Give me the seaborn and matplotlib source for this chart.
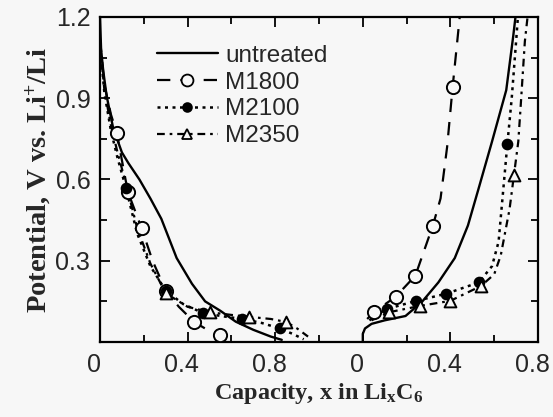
import numpy as np
import pandas as pd
import matplotlib
matplotlib.use("Agg")
import matplotlib.pyplot as plt
from matplotlib.lines import Line2D
from matplotlib.transforms import ScaledTranslation
import seaborn as sns

# ---------------- data ----------------
# Discharge (left panel): capacity x, potential V
dis_untreated_x = [0.0, 0.005, 0.015, 0.03, 0.06, 0.10, 0.13, 0.18, 0.23, 0.28, 0.35, 0.42, 0.48, 0.55, 0.62, 0.70, 0.78, 0.83]
dis_untreated_y = [1.20, 1.08, 1.00, 0.91, 0.79, 0.70, 0.66, 0.60, 0.53, 0.455, 0.31, 0.215, 0.15, 0.115, 0.075, 0.045, 0.02, 0.008]

dis_m1800_x = [0.0, 0.02, 0.05, 0.077, 0.127, 0.19, 0.24, 0.30, 0.36, 0.43, 0.49, 0.55, 0.58]
dis_m1800_y = [1.12, 0.95, 0.84, 0.77, 0.555, 0.42, 0.30, 0.19, 0.13, 0.074, 0.045, 0.026, 0.015]
dis_m1800_mx = [0.077, 0.127, 0.19, 0.30, 0.43, 0.55]
dis_m1800_my = [0.77, 0.555, 0.42, 0.19, 0.074, 0.026]

dis_m2100_x = [0.0, 0.02, 0.05, 0.08, 0.118, 0.17, 0.23, 0.30, 0.38, 0.47, 0.56, 0.65, 0.74, 0.82, 0.88, 0.93]
dis_m2100_y = [1.10, 0.92, 0.78, 0.68, 0.57, 0.40, 0.28, 0.19, 0.14, 0.107, 0.095, 0.085, 0.07, 0.05, 0.03, 0.01]
dis_m2100_mx = [0.118, 0.30, 0.47, 0.65, 0.82]
dis_m2100_my = [0.57, 0.19, 0.107, 0.085, 0.05]

dis_m2350_x = [0.0, 0.02, 0.05, 0.08, 0.12, 0.17, 0.23, 0.30, 0.40, 0.50, 0.60, 0.68, 0.78, 0.85, 0.90, 0.95]
dis_m2350_y = [1.10, 0.93, 0.80, 0.70, 0.58, 0.42, 0.29, 0.18, 0.13, 0.11, 0.10, 0.093, 0.085, 0.074, 0.05, 0.02]
dis_m2350_mx = [0.30, 0.50, 0.68, 0.85]
dis_m2350_my = [0.18, 0.11, 0.093, 0.074]

# Charge (right panel): capacity x, potential V
chg_untreated_x = [0.0, 0.0, 0.01, 0.04, 0.10, 0.195, 0.27, 0.345, 0.42, 0.48, 0.53, 0.59, 0.655, 0.687, 0.70]
chg_untreated_y = [0.0, 0.03, 0.05, 0.067, 0.08, 0.096, 0.148, 0.22, 0.31, 0.43, 0.57, 0.74, 0.93, 1.13, 1.22]

chg_m1800_x = [0.02, 0.05, 0.15, 0.24, 0.32, 0.355, 0.385, 0.41, 0.43, 0.445]
chg_m1800_y = [0.085, 0.11, 0.167, 0.245, 0.43, 0.53, 0.72, 0.94, 1.10, 1.22]
chg_m1800_mx = [0.05, 0.15, 0.24, 0.32, 0.41]
chg_m1800_my = [0.11, 0.167, 0.245, 0.43, 0.94]

chg_m2100_x = [0.03, 0.11, 0.245, 0.38, 0.53, 0.59, 0.62, 0.64, 0.66, 0.68, 0.70, 0.71]
chg_m2100_y = [0.08, 0.122, 0.152, 0.178, 0.22, 0.28, 0.37, 0.55, 0.73, 0.90, 1.11, 1.22]
chg_m2100_mx = [0.11, 0.245, 0.38, 0.53, 0.66]
chg_m2100_my = [0.122, 0.152, 0.178, 0.22, 0.73]

chg_m2350_x = [0.04, 0.12, 0.26, 0.40, 0.54, 0.60, 0.63, 0.67, 0.69, 0.71, 0.72, 0.74, 0.755]
chg_m2350_y = [0.08, 0.11, 0.133, 0.152, 0.207, 0.25, 0.32, 0.49, 0.615, 0.74, 0.86, 1.11, 1.22]
chg_m2350_mx = [0.12, 0.26, 0.40, 0.54, 0.69]
chg_m2350_my = [0.11, 0.133, 0.152, 0.207, 0.615]

series_names = ["untreated", "M1800", "M2100", "M2350"]
xtick_labels = ["0", "0.4", "0.8", "0", "0.4", "0.8"]
ytick_labels = ["1.2", "0.9", "0.6", "0.3"]

CHARGE_OFFSET = 1.2  # charge branch drawn to the right of the discharge branch

# ---------------- style ----------------
BG = "#f7f7f7"
sns.set_theme(style="ticks")
plt.rcParams["font.family"] = ["Liberation Sans", "DejaVu Sans"]
plt.rcParams["mathtext.fontset"] = "custom"
plt.rcParams["mathtext.rm"] = "Liberation Serif:bold"
plt.rcParams["mathtext.bf"] = "Liberation Serif:bold"
plt.rcParams["mathtext.it"] = "Liberation Serif:bold"

fig = plt.figure(figsize=(5.53, 4.17), dpi=100, facecolor=BG)
ax = fig.add_axes([100 / 553, 1 - 342 / 417, 438 / 553, 325 / 417])
ax.set_facecolor(BG)

styles = {
    "untreated": dict(ls="-", lw=1.7, marker=None, mfc=None, ms=0),
    "M1800": dict(ls=(0, (6, 4.5)), lw=1.6, marker="o", mfc=BG, ms=9.5),
    "M2100": dict(ls=(0, (1.2, 1.8)), lw=1.8, marker="o", mfc="black", ms=7),
    "M2350": dict(ls=(0, (3.5, 2.2, 1.2, 2.2)), lw=1.6, marker="^", mfc=BG, ms=8.5),
}

branch_data = {
    ("dis", "untreated"): (dis_untreated_x, dis_untreated_y, [], []),
    ("dis", "M1800"): (dis_m1800_x, dis_m1800_y, dis_m1800_mx, dis_m1800_my),
    ("dis", "M2100"): (dis_m2100_x, dis_m2100_y, dis_m2100_mx, dis_m2100_my),
    ("dis", "M2350"): (dis_m2350_x, dis_m2350_y, dis_m2350_mx, dis_m2350_my),
    ("chg", "untreated"): (chg_untreated_x, chg_untreated_y, [], []),
    ("chg", "M1800"): (chg_m1800_x, chg_m1800_y, chg_m1800_mx, chg_m1800_my),
    ("chg", "M2100"): (chg_m2100_x, chg_m2100_y, chg_m2100_mx, chg_m2100_my),
    ("chg", "M2350"): (chg_m2350_x, chg_m2350_y, chg_m2350_mx, chg_m2350_my),
}

for (branch, name), (lx, ly, mx, my) in branch_data.items():
    off = CHARGE_OFFSET if branch == "chg" else 0.0
    st = styles[name]
    df = pd.DataFrame({"x": np.asarray(lx) + off, "y": ly})
    sns.lineplot(data=df, x="x", y="y", sort=False, estimator=None, ax=ax,
                 color="black", linewidth=st["lw"], linestyle=st["ls"], zorder=2)
    if len(mx):
        mdf = pd.DataFrame({"x": np.asarray(mx) + off, "y": my})
        sns.scatterplot(data=mdf, x="x", y="y", ax=ax, marker=st["marker"],
                        s=st["ms"] ** 2, color=st["mfc"], edgecolor="black",
                        linewidth=1.4, zorder=3, clip_on=True)

ax.set_xlim(0, 2.0)
ax.set_ylim(0, 1.2)

# ticks
ax.set_xticks([0, 0.4, 0.8, 1.2, 1.6, 2.0])
ax.set_xticklabels(xtick_labels)
ax.set_xticks([0.2, 0.6, 1.0, 1.4, 1.8], minor=True)
ax.set_yticks([1.2, 0.9, 0.6, 0.3])
ax.set_yticklabels(ytick_labels)
ax.set_yticks([0.15, 0.45, 0.75, 1.05], minor=True)
ax.tick_params(which="both", direction="in", top=True, right=True, width=1.3, color="black")
ax.tick_params(which="major", length=7)
ax.tick_params(which="minor", length=5)
ax.tick_params(axis="x", which="major", labelsize=18, pad=8)
ax.tick_params(axis="y", which="major", labelsize=18, pad=7)
for lab in ax.get_xticklabels():
    lab.set_transform(lab.get_transform() + ScaledTranslation(-6 / 100, 0, fig.dpi_scale_trans))
for sp in ax.spines.values():
    sp.set_linewidth(1.6)
    sp.set_color("black")

ax.set_xlabel(r"Capacity, x in Li$_{x}$C$_{6}$", fontsize=17.5, fontweight="bold",
              family=["Liberation Serif"], labelpad=3)
ax.set_ylabel(r"Potential, V vs. Li$^{+}$/Li", fontsize=20.5, fontweight="bold",
              family=["Liberation Serif"], labelpad=2)

# legend
handles = []
for name in series_names:
    st = styles[name]
    handles.append(Line2D([], [], color="black", linestyle=st["ls"], linewidth=st["lw"],
                          marker=st["marker"], markersize=st["ms"] * 0.9,
                          markerfacecolor=st["mfc"] if st["mfc"] else "black",
                          markeredgecolor="black", markeredgewidth=1.3))
ax.legend(handles, series_names, loc="upper left", bbox_to_anchor=(0.13, 0.915),
          frameon=False, fontsize=17.5, handlelength=2.5, handletextpad=0.3,
          labelspacing=0.2, borderpad=0, borderaxespad=0)

fig.savefig("out.png", dpi=100, facecolor=BG)
